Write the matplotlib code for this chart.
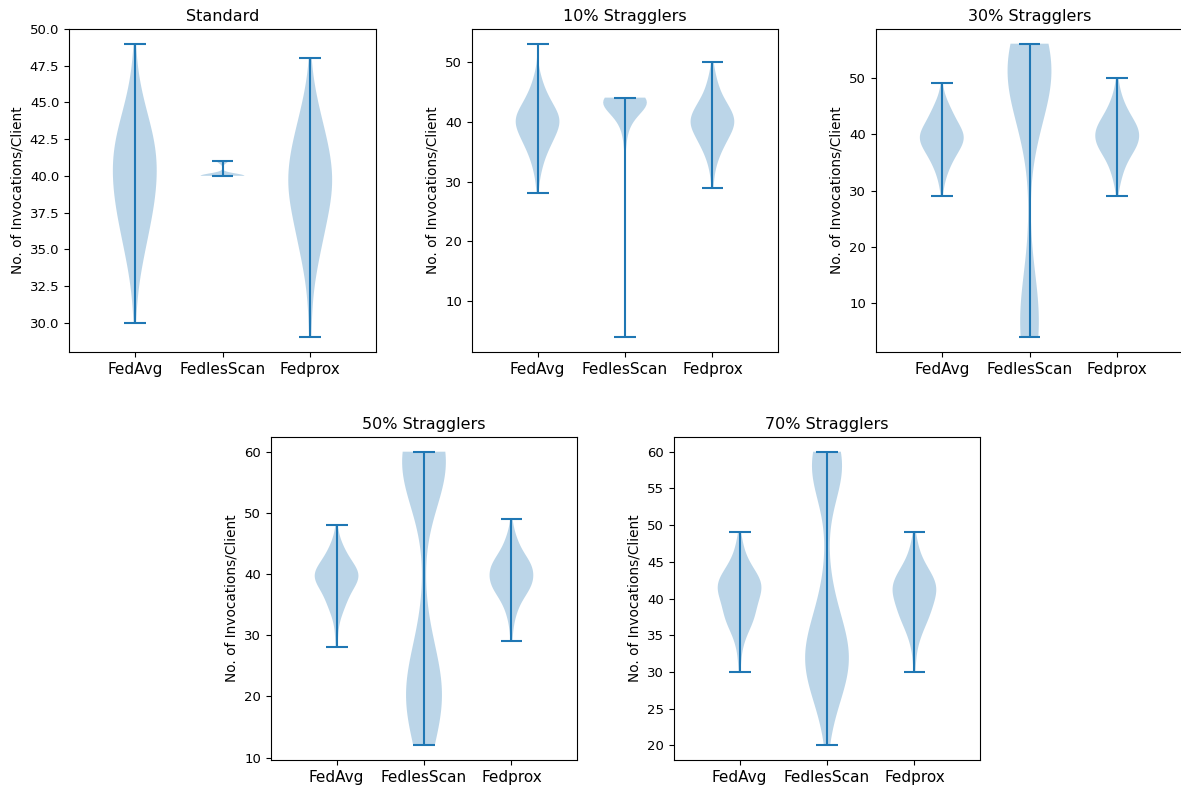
import numpy as np
import matplotlib
matplotlib.use('Agg')
from matplotlib import pyplot as plt

methods = ['FedAvg', 'FedlesScan', 'Fedprox']
titles = ['Standard', '10% Stragglers', '30% Stragglers', '50% Stragglers', '70% Stragglers']

# invocations per client: (lowest value, number of clients at each value upward)
std_fedavg = (30, [1, 1, 2, 3, 5, 7, 9, 11, 13, 14, 15, 15, 14, 12, 9, 6, 4, 2, 1, 1])
std_fedless = (40, [80, 20])
std_fedprox = (29, [1, 1, 1, 2, 3, 5, 7, 9, 11, 13, 15, 15, 14, 12, 10, 7, 5, 3, 1, 1])

s10_fedavg = (28, [1, 1, 1, 2, 3, 4, 5, 7, 9, 11, 13, 15, 17, 16, 13, 10, 8, 6, 4, 3, 2, 1, 0, 0, 0, 1])
s10_fedless = (4, [1] + [0] * 30 + [1, 1, 1, 2, 3, 5, 8, 14, 24, 40])
s10_fedprox = (29, [1, 1, 1, 2, 3, 4, 6, 8, 10, 12, 15, 16, 15, 12, 10, 7, 5, 4, 3, 2, 1, 1])

s30_fedavg = (29, [1, 1, 2, 3, 4, 6, 8, 10, 13, 16, 18, 18, 15, 12, 10, 8, 6, 4, 2, 1, 1])
s30_fedless = (4, [7, 5, 4, 3, 3, 2, 2, 1, 1, 1, 0, 1] + [0] * 24
               + [1, 1, 1, 2, 2, 3, 3, 4, 4, 5, 5, 6, 6, 7, 7, 8, 10])
s30_fedprox = (29, [1, 1, 2, 3, 4, 5, 7, 9, 12, 15, 16, 16, 16, 13, 10, 8, 6, 4, 3, 2, 1, 1])

s50_fedavg = (28, [1, 1, 1, 1, 2, 3, 5, 7, 8, 10, 13, 17, 18, 15, 11, 8, 6, 4, 2, 1, 1])
s50_fedless = (12, [1, 2, 2, 3, 4, 5, 6, 7, 7, 7, 6, 5, 4, 3, 2, 2, 1, 1, 1, 0, 1] + [0] * 17
               + [1, 0, 0, 0, 2, 3, 6, 9, 13, 18, 24])
s50_fedprox = (29, [1, 1, 1, 2, 3, 4, 6, 8, 12, 15, 16, 16, 16, 14, 10, 7, 5, 4, 2, 1, 1])

s70_fedavg = (30, [1, 1, 1, 2, 3, 5, 8, 11, 12, 12, 14, 17, 18, 15, 10, 7, 4, 3, 2, 1])
s70_fedless = (20, [1, 1, 1, 1, 2, 3, 5, 7, 9, 11, 13, 14, 14, 13, 12, 10, 8, 6, 5, 4, 3, 2, 2, 1, 1, 1, 0, 1, 0, 0,
                    0, 0, 0, 2, 3, 4, 7, 11, 14, 17, 20])
s70_fedprox = (30, [1, 1, 1, 2, 3, 5, 7, 10, 12, 13, 15, 17, 17, 14, 10, 7, 4, 3, 2, 1])

panels = [
    [std_fedavg, std_fedless, std_fedprox],
    [s10_fedavg, s10_fedless, s10_fedprox],
    [s30_fedavg, s30_fedless, s30_fedprox],
    [s50_fedavg, s50_fedless, s50_fedprox],
    [s70_fedavg, s70_fedless, s70_fedprox],
]

# axes boxes in pixels: left, top, right, bottom
W, H = 1181, 787
boxes = [(69, 29, 376, 352), (472, 29, 778, 352), (876, 29, 1183, 352),
         (271, 437, 577, 760), (674, 437, 980, 760)]


def expand(spec):
    start, counts = spec
    return np.repeat(np.arange(start, start + len(counts)), counts).astype(float)


fig = plt.figure(figsize=(W / 100, H / 100), dpi=100)
for i in range(5):
    l, t, r, b = boxes[i]
    ax = fig.add_axes([l / W, 1 - b / H, (r - l) / W, (b - t) / H])
    data = [expand(s) for s in panels[i]]
    ax.violinplot(data, positions=[1, 2, 3])
    ax.set_xticks([1, 2, 3])
    ax.set_xticklabels(methods, fontsize=11)
    ax.set_xlim(0.25, 3.75)
    ax.tick_params(axis='y', labelsize=9.5)
    ax.set_ylabel('No. of Invocations/Client', fontsize=9.8)
    ax.set_title(titles[i], fontsize=11.5)

fig.savefig('out.png', dpi=100)
